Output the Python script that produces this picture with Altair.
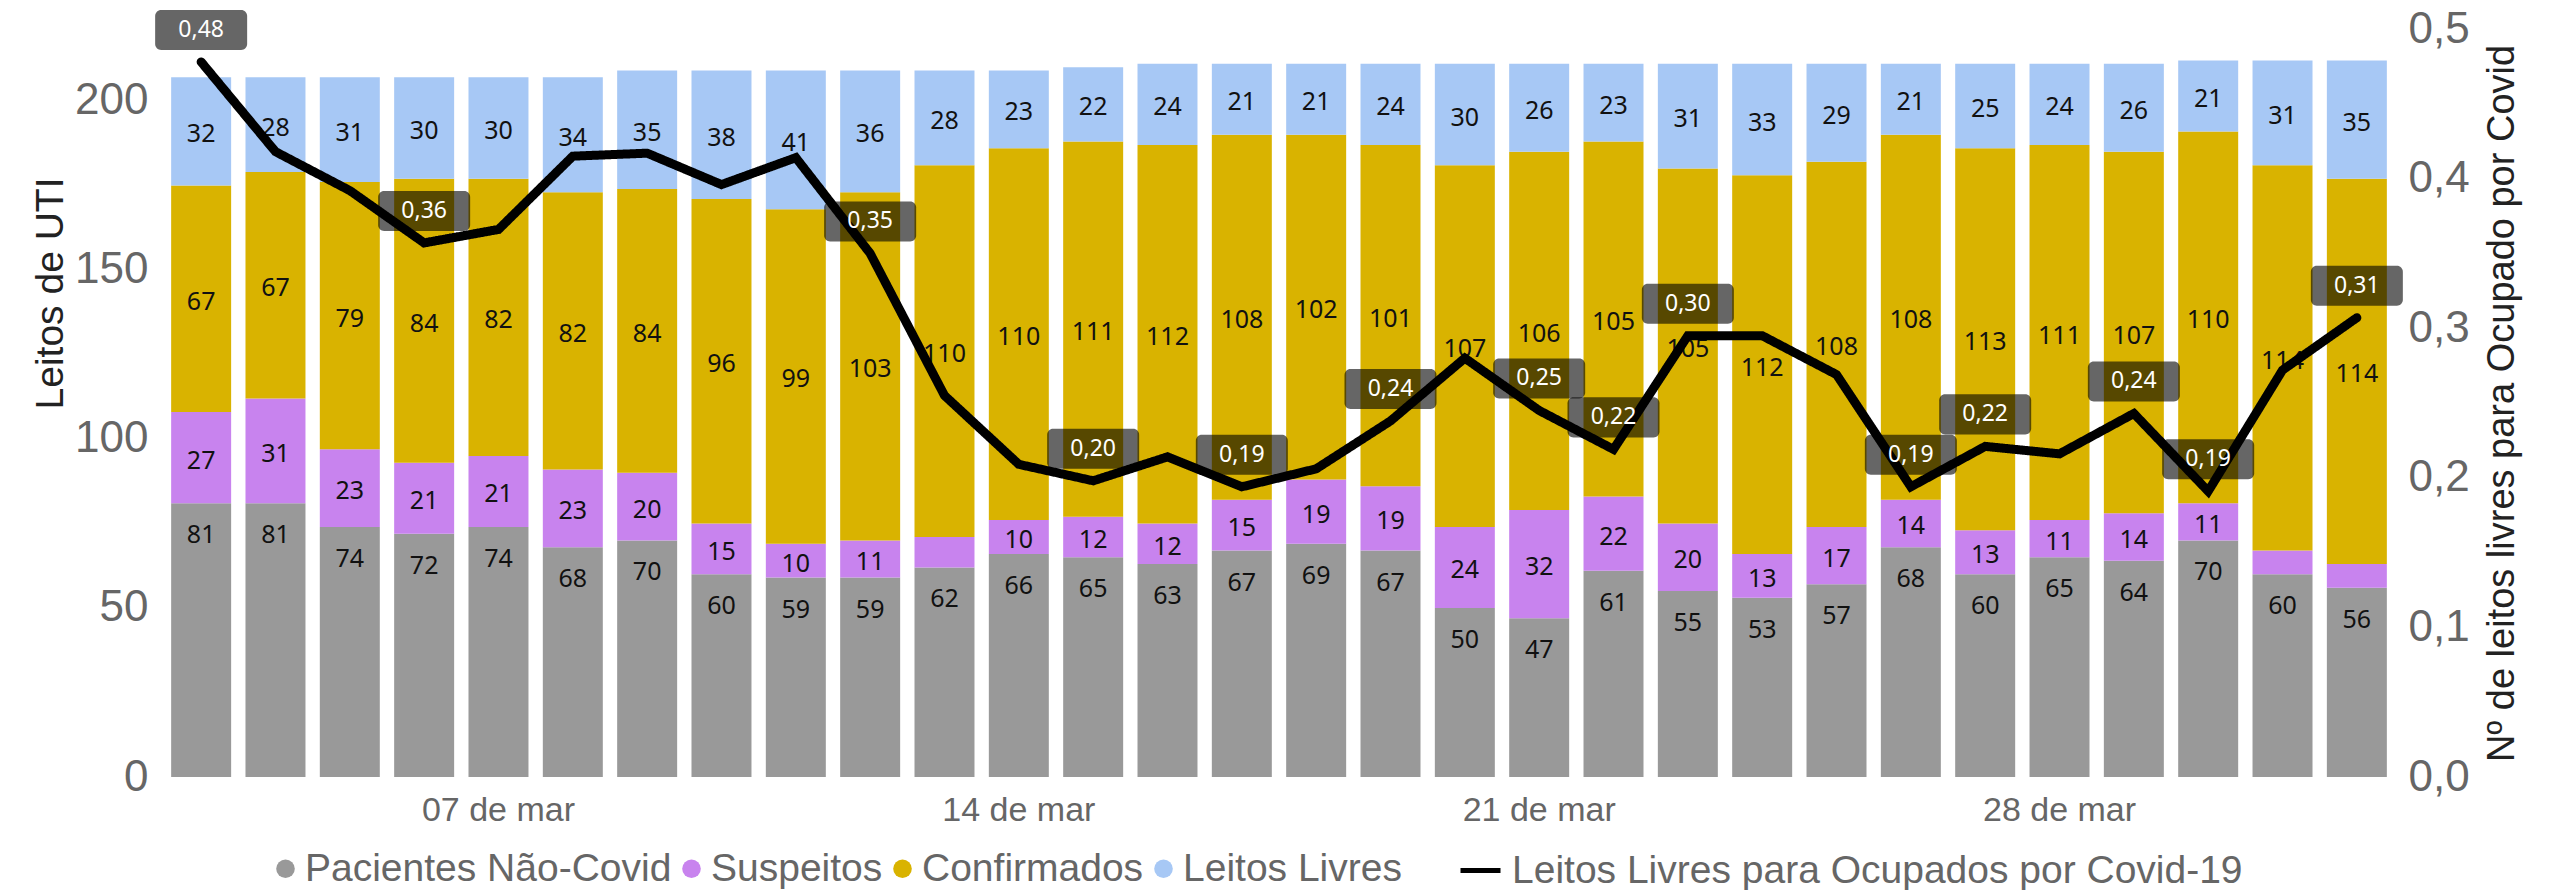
import altair as alt
import pandas as pd

# ---------------- data ----------------
dias = ["03 de mar", "04 de mar", "05 de mar", "06 de mar", "07 de mar", "08 de mar",
        "09 de mar", "10 de mar", "11 de mar", "12 de mar", "13 de mar", "14 de mar",
        "15 de mar", "16 de mar", "17 de mar", "18 de mar", "19 de mar", "20 de mar",
        "21 de mar", "22 de mar", "23 de mar", "24 de mar", "25 de mar", "26 de mar",
        "27 de mar", "28 de mar", "29 de mar", "30 de mar", "31 de mar", "01 de abr"]
tick_dias = ["07 de mar", "14 de mar", "21 de mar", "28 de mar"]

nao_covid = [81, 81, 74, 72, 74, 68, 70, 60, 59, 59, 62, 66, 65, 63, 67, 69, 67, 50, 47, 61,
             55, 53, 57, 68, 60, 65, 64, 70, 60, 56]
suspeitos = [27, 31, 23, 21, 21, 23, 20, 15, 10, 11, 9, 10, 12, 12, 15, 19, 19, 24, 32, 22,
             20, 13, 17, 14, 13, 11, 14, 11, 7, 7]
confirmados = [67, 67, 79, 84, 82, 82, 84, 96, 99, 103, 110, 110, 111, 112, 108, 102, 101, 107,
               106, 105, 105, 112, 108, 108, 113, 111, 107, 110, 114, 114]
livres = [32, 28, 31, 30, 30, 34, 35, 38, 41, 36, 28, 23, 22, 24, 21, 21, 24, 30, 26, 23,
          31, 33, 29, 21, 25, 24, 26, 21, 31, 35]

razao = [0.478, 0.418, 0.392, 0.357, 0.366, 0.415, 0.417, 0.396, 0.414, 0.350,
         0.255, 0.209, 0.198, 0.214, 0.194, 0.206, 0.238, 0.280, 0.245, 0.219,
         0.295, 0.295, 0.269, 0.194, 0.221, 0.216, 0.243, 0.191, 0.272, 0.307]
rotulos = ["0,48", "", "", "0,36", "", "", "", "", "", "0,35",
           "", "", "0,20", "", "0,19", "", "0,24", "", "0,25", "0,22",
           "0,30", "", "", "0,19", "0,22", "", "0,24", "0,19", "", "0,31"]

SERIES = ["Pacientes Não-Covid", "Suspeitos", "Confirmados", "Leitos Livres"]
LINE = "Leitos Livres para Ocupados por Covid-19"
COLORS = ["#999999", "#C883EE", "#D9B300", "#A7C8F5"]

rows = []
for i, d in enumerate(dias):
    for k, (nome, vals) in enumerate(zip(SERIES, [nao_covid, suspeitos, confirmados, livres])):
        rows.append({"dia": d, "serie": nome, "valor": vals[i], "ordem": k})
df_bars = pd.DataFrame(rows)
df_line = pd.DataFrame({"dia": dias, "razao": razao, "rotulo": rotulos, "serie": LINE})

# ---------------- styles ----------------
AXIS_FONT = "Liberation Sans"
LABEL_FONT = "Noto Sans"
W, H = 2238, 748
LEFT_MAX = 221.3

x_scale = alt.Scale(paddingInner=0.193, paddingOuter=0.15)

x_axis = alt.Axis(values=tick_dias, title=None, labelAngle=0, labelFont=AXIS_FONT,
                  labelFontSize=34, labelColor="#666666", labelPadding=16,
                  domain=False, ticks=False, grid=False)
x_enc = alt.X("dia:N", sort=dias, scale=x_scale, axis=x_axis)

bar_legend = alt.Legend(
    orient="none", legendX=106, legendY=820, direction="horizontal", title=None,
    labelFont=AXIS_FONT, labelFontSize=39, labelColor="#666666", labelLimit=0,
    symbolType="circle", symbolSize=346, symbolStrokeWidth=0, symbolOpacity=1,
    columnPadding=0, labelOffset=0, padding=0,
)
line_legend = alt.Legend(
    orient="none", legendX=1298, legendY=819, direction="horizontal", title=None,
    labelFont=AXIS_FONT, labelFontSize=39, labelColor="#666666", labelLimit=0,
    symbolType="stroke", symbolSize=1600, symbolStrokeWidth=5, symbolStrokeColor="black",
    labelOffset=9, padding=0,
)

bars = alt.Chart(df_bars).mark_bar().encode(
    x=x_enc,
    y=alt.Y("valor:Q", stack="zero",
            scale=alt.Scale(domain=[0, LEFT_MAX], nice=False, zero=True),
            axis=alt.Axis(orient="left", values=[0, 50, 100, 150, 200], title="Leitos de UTI",
                          domain=False, ticks=False, grid=False,
                          labelFont=AXIS_FONT, labelFontSize=44, labelColor="#666666",
                          labelPadding=12, titleFont=AXIS_FONT, titleFontSize=39,
                          titleFontWeight="normal", titleColor="#222222", titlePadding=4,
                          titleY=264)),
    color=alt.Color("serie:N", scale=alt.Scale(domain=SERIES, range=COLORS),
                    legend=bar_legend),
    order=alt.Order("ordem:Q"),
)

stacked = alt.Chart(df_bars).transform_stack(
    stack="valor", groupby=["dia"], sort=[alt.SortField("ordem", order="ascending")],
    as_=["y0", "y1"]
).transform_filter("datum.valor >= 10").transform_calculate(mid="(datum.y0 + datum.y1) / 2")

text_mid = stacked.transform_filter("datum.ordem > 0").mark_text(
    font=LABEL_FONT, fontSize=25, color="#111111", baseline="middle", dy=3
).encode(x=x_enc,
         y=alt.Y("mid:Q", scale=alt.Scale(domain=[0, LEFT_MAX], nice=False, zero=True), axis=None),
         text="valor:Q")

text_grey = stacked.transform_filter("datum.ordem == 0").mark_text(
    font=LABEL_FONT, fontSize=25, color="#111111", baseline="middle", dy=32
).encode(x=x_enc,
         y=alt.Y("y1:Q", scale=alt.Scale(domain=[0, LEFT_MAX], nice=False, zero=True), axis=None),
         text="valor:Q")

line = alt.Chart(df_line).mark_line(
    color="black", strokeWidth=9, strokeCap="round", strokeJoin="miter"
).encode(
    x=x_enc,
    y=alt.Y("razao:Q", scale=alt.Scale(domain=[0, 0.5], nice=False, zero=True),
            axis=alt.Axis(orient="right", values=[0, 0.1, 0.2, 0.3, 0.4, 0.5], format=".1f",
                          title="Nº de leitos livres para Ocupado por Covid",
                          domain=False, ticks=False, grid=False,
                          labelFont=AXIS_FONT, labelFontSize=44, labelColor="#666666",
                          labelPadding=10, titleFont=AXIS_FONT, titleFontSize=38,
                          titleFontWeight="normal", titleColor="#222222",
                          titleAngle=270, titleBaseline="top", titlePadding=14)),
    strokeDash=alt.StrokeDash("serie:N", scale=alt.Scale(domain=[LINE], range=[[1, 0]]),
                              legend=line_legend),
)

BOX = ("M-0.87,-0.435L0.87,-0.435A0.13,0.13,0,0,1,1,-0.305L1,0.305"
       "A0.13,0.13,0,0,1,0.87,0.435L-0.87,0.435A0.13,0.13,0,0,1,-1,0.305"
       "L-1,-0.305A0.13,0.13,0,0,1,-0.87,-0.435Z")
lab_base = alt.Chart(df_line).transform_filter("datum.rotulo != ''")
boxes = lab_base.mark_point(
    shape=BOX, size=8464, filled=True, color="black", fillOpacity=0.6,
    strokeOpacity=0, yOffset=-32
).encode(x=x_enc,
         y=alt.Y("razao:Q", scale=alt.Scale(domain=[0, 0.5], nice=False, zero=True), axis=None))
box_text = lab_base.mark_text(
    font=LABEL_FONT, fontSize=23, color="white", baseline="middle", yOffset=-32
).encode(x=x_enc,
         y=alt.Y("razao:Q", scale=alt.Scale(domain=[0, 0.5], nice=False, zero=True), axis=None),
         text="rotulo:N")

chart = alt.layer(bars, text_mid, text_grey, line, boxes, box_text).resolve_scale(
    y="independent"
).properties(
    width=W, height=H,
    autosize=alt.AutoSizeParams(type="none"),
    padding={"left": 152, "top": 21, "right": 146, "bottom": 113},
).configure_view(stroke=None)

chart.save("out.html", embed_options={
    "renderer": "svg", "actions": False,
    "formatLocale": {"decimal": ",", "thousands": ".", "grouping": [3], "currency": ["R$", ""]},
})
